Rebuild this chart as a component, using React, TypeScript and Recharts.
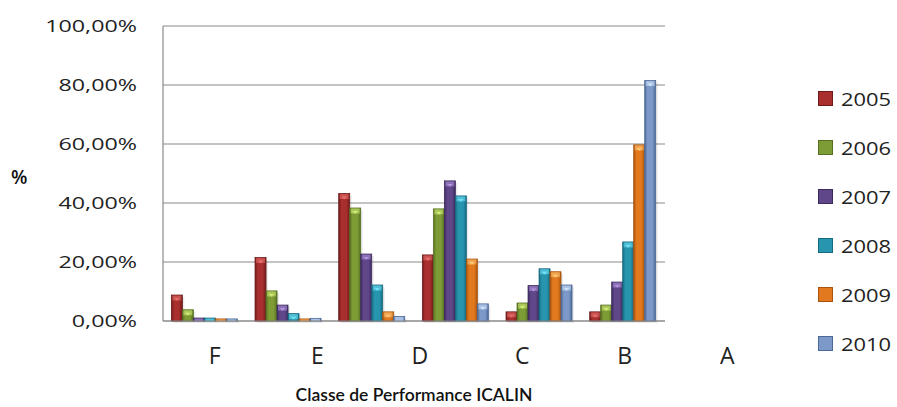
import React from 'react';
import { BarChart, Bar, XAxis, YAxis, CartesianGrid, Legend, Label } from 'recharts';

// Performance classes, left to right
const classes = ['F', 'E', 'D', 'C', 'B', 'A'];

// Share of establishments per class (%), one array per year
const y2005 = [8.8, 21.5, 43.2, 22.4, 3.1, 3.1];
const y2006 = [3.8, 10.2, 38.3, 38.0, 6.1, 5.4];
const y2007 = [1.0, 5.4, 22.7, 47.5, 12.0, 13.2];
const y2008 = [1.0, 2.5, 12.2, 42.4, 17.7, 26.8];
const y2009 = [0.7, 0.7, 3.1, 21.0, 16.7, 59.7];
const y2010 = [0.7, 0.9, 1.5, 5.8, 12.2, 81.5];

const years = ['2005', '2006', '2007', '2008', '2009', '2010'];
const yearValues = [y2005, y2006, y2007, y2008, y2009, y2010];
const yTicks = [0, 20, 40, 60, 80, 100];

const palette = [
  { base: '#A82F2D', dark: '#6E1A1A', light: '#E8706E' },
  { base: '#7E9C36', dark: '#566F22', light: '#D2EC78' },
  { base: '#604789', dark: '#3C2A5E', light: '#B394DE' },
  { base: '#2895AF', dark: '#166A80', light: '#72E2F6' },
  { base: '#E3791E', dark: '#A8540E', light: '#FFC878' },
  { base: '#7C99C9', dark: '#4C6896', light: '#D0E4FA' },
];

const chartData = classes.map((c, i) => {
  const row: any = { name: c };
  years.forEach((y, j) => {
    row[y] = yearValues[j][i];
  });
  return row;
});

const FONT = '"Open Sans", sans-serif';

const fmtPct = (v: number) => `${v.toFixed(2).replace('.', ',')}%`;

// bevelled bar like the Office 2007 style
const BevelBar = (props: any) => {
  const { x, y, width, height, idx } = props;
  if (height <= 0) return null;
  const col = palette[idx];
  const id = `g${idx}`;
  const cap = Math.min(5, height);
  const tri = Math.min(width * 0.25, 4);
  return (
    <g>
      <defs>
        <linearGradient id={id} x1="0" y1="0" x2="1" y2="0">
          <stop offset="0%" stopColor={col.dark} />
          <stop offset="25%" stopColor={col.base} />
          <stop offset="70%" stopColor={col.base} />
          <stop offset="100%" stopColor={col.dark} />
        </linearGradient>
      </defs>
      <rect x={x + 2} y={y + 2} width={width} height={height} fill="#000" opacity={0.08} />
      <rect x={x} y={y} width={width} height={height} fill={`url(#${id})`} stroke={col.dark} strokeWidth={0.8} />
      <rect x={x + 1} y={y + 0.5} width={width - 2} height={cap} fill={col.light} opacity={0.55} />
      {height > 6 && (
        <polygon
          points={`${x + width / 2 - tri},${y + 3} ${x + width / 2 + tri},${y + 3} ${x + width / 2},${y + 3 + tri}`}
          fill={col.light}
        />
      )}
    </g>
  );
};

// y labels in the source are drawn wide
const YTick = ({ x, y, payload }: any) => (
  <text
    x={0}
    y={0}
    transform={`translate(${x},${y}) scale(1.37,1)`}
    textAnchor="end"
    dy="0.36em"
    fontFamily={FONT}
    fontSize={17}
    fill="#222"
  >
    {fmtPct(payload.value)}
  </text>
);

// category labels in the source are spread wider than the bar groups
const XTick = ({ x, y, payload }: any) => (
  <text
    x={215 + (x - 205) * 1.225}
    y={y}
    dy={37}
    textAnchor="middle"
    fontFamily={FONT}
    fontSize={23}
    fill="#222"
  >
    {payload.value}
  </text>
);

const LegendList = ({ payload }: any) => (
  <div style={{ fontFamily: FONT, fontSize: 19, color: '#222' }}>
    {(payload || []).map((p: any, i: number) => (
      <div key={p.value} style={{ height: 49, display: 'flex', alignItems: 'center' }}>
        <span
          style={{
            display: 'inline-block',
            width: 13,
            height: 13,
            marginRight: 8,
            background: palette[i].base,
            border: `1px solid ${palette[i].dark}`,
          }}
        />
        <span style={{ display: 'inline-block', transform: 'scaleX(1.15)', transformOrigin: 'left center' }}>
          {p.value}
        </span>
      </div>
    ))}
  </div>
);

export default function App() {
  return (
    <div style={{ position: 'absolute', left: 0, top: 0, width: 897, height: 407, background: '#fff' }}>
      <BarChart
        width={897}
        height={407}
        data={chartData}
        margin={{ top: 26, right: 152, left: 0, bottom: 0 }}
        barCategoryGap="10%"
        barGap={0}
      >
        <CartesianGrid vertical={false} stroke="#8a8a8a" strokeWidth={1.2} />
        <XAxis
          dataKey="name"
          height={86}
          tickLine={false}
          axisLine={{ stroke: '#8a8a8a', strokeWidth: 1.2 }}
          tickMargin={0}
          tick={<XTick />}
        >
          <Label
            value="Classe de Performance ICALIN"
            position="insideBottom"
            offset={6}
            style={{ fontFamily: 'Lato, sans-serif', fontSize: 17.5, fontWeight: 600, fill: '#111' }}
          />
        </XAxis>
        <YAxis
          width={163}
          domain={[0, 100]}
          ticks={yTicks}
          tickLine={false}
          axisLine={{ stroke: '#8a8a8a', strokeWidth: 1.2 }}
          tickMargin={20}
          tick={<YTick />}
        >
          <Label
            value="%"
            position="insideLeft"
            offset={11}
            dy={4}
            style={{ fontFamily: FONT, fontSize: 19, fontWeight: 600, fill: '#111' }}
          />
        </YAxis>
        <Legend
          layout="vertical"
          align="right"
          verticalAlign="top"
          content={<LegendList />}
          wrapperStyle={{ left: 818, top: 74, width: 80 }}
        />
        {years.map((y, j) => (
          <Bar
            key={y}
            dataKey={y}
            fill={palette[j].base}
            isAnimationActive={false}
            shape={(p: any) => <BevelBar {...p} idx={j} />}
          />
        ))}
      </BarChart>
    </div>
  );
}
